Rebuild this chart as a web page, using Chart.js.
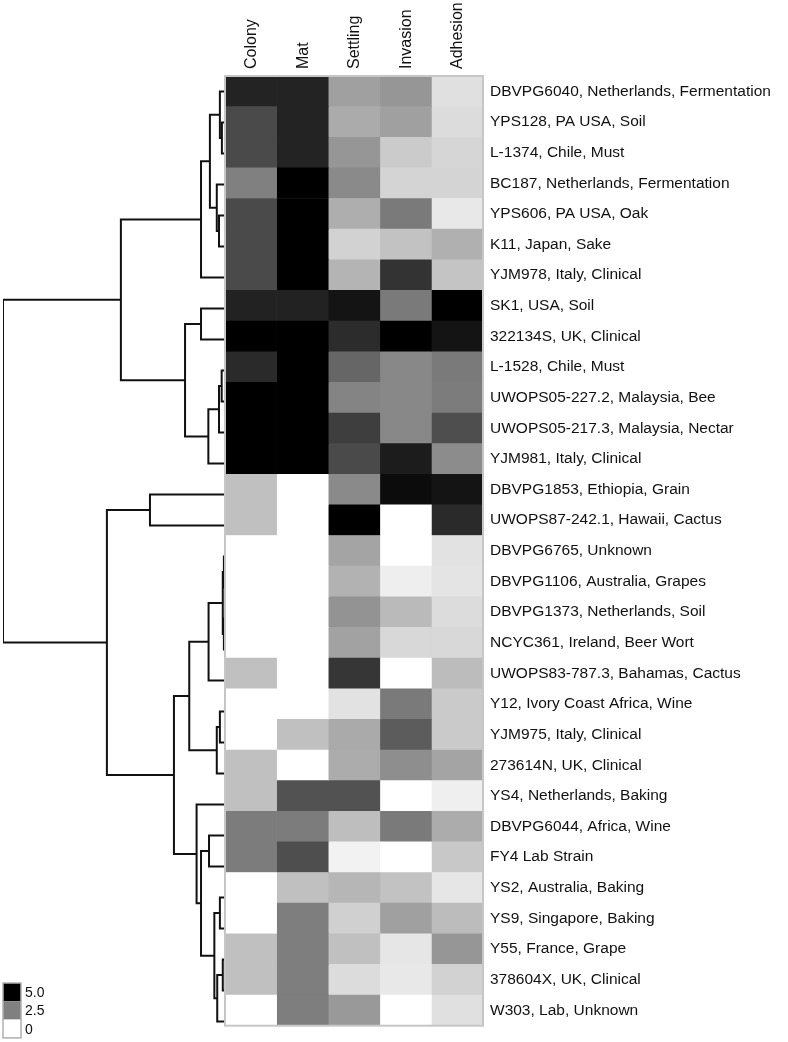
<!DOCTYPE html>
<html>
<head>
<meta charset="utf-8">
<script src="https://cdn.jsdelivr.net/npm/chart.js@4.4.1/dist/chart.umd.min.js"></script>
<style>
  body { margin: 0; background: #fff; }
  #wrap { position: relative; width: 788px; height: 1042px; }
  #wrap canvas { position: absolute; left: 0; top: 0; }
</style>
</head>
<body>
<div id="wrap">
  <canvas id="tree" width="788" height="1042"></canvas>
  <canvas id="heat" width="788" height="1042"></canvas>
</div>
<script>
const strains = [
  'DBVPG6040, Netherlands, Fermentation', 'YPS128, PA USA, Soil', 'L-1374, Chile, Must',
  'BC187, Netherlands, Fermentation', 'YPS606, PA USA, Oak', 'K11, Japan, Sake',
  'YJM978, Italy, Clinical', 'SK1, USA, Soil', '322134S, UK, Clinical', 'L-1528, Chile, Must',
  'UWOPS05-227.2, Malaysia, Bee', 'UWOPS05-217.3, Malaysia, Nectar', 'YJM981, Italy, Clinical',
  'DBVPG1853, Ethiopia, Grain', 'UWOPS87-242.1, Hawaii, Cactus', 'DBVPG6765, Unknown',
  'DBVPG1106, Australia, Grapes', 'DBVPG1373, Netherlands, Soil', 'NCYC361, Ireland, Beer Wort',
  'UWOPS83-787.3, Bahamas, Cactus', 'Y12, Ivory Coast Africa, Wine', 'YJM975, Italy, Clinical',
  '273614N, UK, Clinical', 'YS4, Netherlands, Baking', 'DBVPG6044, Africa, Wine', 'FY4 Lab Strain',
  'YS2, Australia, Baking', 'YS9, Singapore, Baking', 'Y55, France, Grape', '378604X, UK, Clinical',
  'W303, Lab, Unknown'
];
const traits = ['Colony', 'Mat', 'Settling', 'Invasion', 'Adhesion'];

// scores 0..5, one value per strain (same order as strains)
const colony   = [4.31,3.55,3.55,2.49,3.55,3.55,3.55,4.33,5,4.18,5,5,5,1.24,1.24,0,0,0,0,1.24,0,0,1.24,1.24,2.57,2.57,0,0,1.24,1.24,0];
const mat      = [4.31,4.31,4.31,5,5,5,5,4.33,5,5,5,5,5,0,0,0,0,0,0,0,0,1.24,0,3.39,2.57,3.47,1.24,2.53,2.53,2.53,2.53];
const settling = [1.86,1.65,2.06,2.29,1.59,0.88,1.47,4.61,4.14,3.0,2.41,3.78,3.55,2.29,5,1.78,1.51,2.12,1.82,3.94,0.57,1.67,1.63,3.39,1.27,0.25,1.43,0.92,1.24,0.69,2.0];
const invasion = [2.06,1.86,1.02,0.84,2.61,1.2,4.0,2.61,5,2.33,2.33,2.33,4.45,4.76,0,0,0.33,1.35,0.76,0,2.61,3.2,2.22,0,2.61,0,1.2,1.86,0.49,0.45,0];
const adhesion = [0.61,0.69,0.8,0.84,0.45,1.55,1.16,5,4.61,2.61,2.57,3.47,2.25,4.61,4.18,0.57,0.53,0.69,0.76,1.31,1.04,1.04,1.78,0.31,1.63,1.08,0.49,1.31,2.06,0.88,0.61];
const traitValues = [colony, mat, settling, invasion, adhesion];

// linkage: [a, b, height]; index < 31 is a strain row, index 31+k is merge k
const linkage = [
  [1, 2, 0.014], [0, 31, 0.023], [4, 5, 0.027], [3, 33, 0.037], [32, 34, 0.068],
  [35, 6, 0.108], [7, 8, 0.108], [9, 10, 0.015], [38, 11, 0.027], [39, 12, 0.075],
  [37, 40, 0.180], [36, 41, 0.469], [13, 14, 0.338], [15, 16, 0.005], [17, 18, 0.005],
  [44, 45, 0.010], [46, 19, 0.074], [20, 21, 0.023], [48, 22, 0.037], [47, 49, 0.161],
  [24, 25, 0.072], [26, 27, 0.023], [28, 29, 0.010], [53, 30, 0.035], [52, 54, 0.048],
  [51, 55, 0.108], [23, 56, 0.128], [50, 57, 0.230], [43, 58, 0.532], [42, 59, 1.0]
];

const legendValues = [5.0, 2.5, 0];
const legendLabels = ['5.0', '2.5', '0'];

function shade(v) {
  const g = Math.round(255 * (1 - v / 5));
  return 'rgb(' + g + ',' + g + ',' + g + ')';
}

Chart.defaults.font.family = '"Liberation Sans", Arial, Helvetica, sans-serif';
Chart.defaults.color = '#111';
Chart.defaults.animation = false;

const TOP = 76, BOTTOM_PAD = 5, HEAT_LEFT = 225, HEAT_RIGHT = 483;

// ---- dendrogram ----
const pos = strains.map((_, i) => ({ y: i, h: 0 }));
const branches = [];
linkage.forEach(([a, b, h]) => {
  const A = pos[a], B = pos[b];
  branches.push([{ x: A.h, y: A.y }, { x: h, y: A.y }, { x: h, y: B.y }, { x: B.h, y: B.y }]);
  pos.push({ y: (A.y + B.y) / 2, h: h });
});

const legendPlugin = {
  id: 'scaleLegend',
  afterDraw(chart) {
    const ctx = chart.ctx;
    const boxH = 18.3, x0 = 3, y0 = 983;
    ctx.save();
    legendValues.forEach((v, i) => {
      ctx.fillStyle = shade(v);
      ctx.fillRect(x0, y0 + i * boxH, 18, boxH);
    });
    ctx.strokeStyle = '#b0b0b0';
    ctx.lineWidth = 1.5;
    ctx.strokeRect(x0, y0, 18, boxH * legendValues.length);
    ctx.fillStyle = '#111';
    ctx.font = '14px "Liberation Sans", Arial, sans-serif';
    ctx.textBaseline = 'middle';
    legendLabels.forEach((t, i) => ctx.fillText(t, x0 + 22, y0 + i * boxH + boxH / 2 + 1));
    ctx.restore();
  }
};

new Chart(document.getElementById('tree'), {
  type: 'line',
  data: {
    datasets: branches.map(pts => ({
      data: pts,
      borderColor: '#111',
      borderWidth: 2,
      pointRadius: 0,
      tension: 0,
      fill: false
    }))
  },
  options: {
    responsive: false,
    layout: { padding: { left: 3, right: 788 - HEAT_LEFT, top: TOP, bottom: BOTTOM_PAD } },
    plugins: { legend: { display: false }, tooltip: { enabled: false } },
    scales: {
      x: { type: 'linear', display: false, min: 0, max: 1.0, reverse: true },
      y: { type: 'linear', display: false, min: -0.5, max: strains.length - 0.5, reverse: true }
    }
  },
  plugins: [legendPlugin]
});

// ---- heatmap ----
const framePlugin = {
  id: 'frame',
  afterDatasetsDraw(chart) {
    const { ctx, chartArea: a } = chart;
    ctx.save();
    ctx.strokeStyle = '#c6c6c6';
    ctx.lineWidth = 2;
    ctx.strokeRect(a.left, a.top, a.right - a.left, a.bottom - a.top);
    ctx.restore();
  }
};

new Chart(document.getElementById('heat'), {
  type: 'bar',
  data: {
    labels: strains,
    datasets: traits.map((t, i) => ({
      label: t,
      data: strains.map(() => 1),
      backgroundColor: traitValues[i].map(shade),
      borderWidth: 0,
      categoryPercentage: 1,
      barPercentage: 1
    }))
  },
  options: {
    responsive: false,
    indexAxis: 'y',
    layout: { padding: { left: HEAT_LEFT, right: 0, top: 0, bottom: BOTTOM_PAD } },
    plugins: { legend: { display: false }, tooltip: { enabled: false } },
    scales: {
      x: {
        type: 'linear', position: 'top', stacked: true, min: 0, max: traits.length,
        grid: { display: false, drawTicks: false }, border: { display: false },
        afterBuildTicks(scale) { scale.ticks = traits.map((_, i) => ({ value: i + 0.5 })); },
        afterFit(scale) { scale.height = TOP; },
        ticks: {
          autoSkip: false, minRotation: 90, maxRotation: 90, padding: 7, labelOffset: 20,
          font: { size: 16 }, color: '#111',
          callback: (v, i) => traits[i]
        }
      },
      y: {
        type: 'category', position: 'right', stacked: true,
        grid: { display: false, drawTicks: false }, border: { display: false },
        afterFit(scale) { scale.width = 788 - HEAT_RIGHT; },
        ticks: { autoSkip: false, padding: 7, font: { size: 15.5 }, color: '#111' }
      }
    }
  },
  plugins: [framePlugin]
});
</script>
</body>
</html>
